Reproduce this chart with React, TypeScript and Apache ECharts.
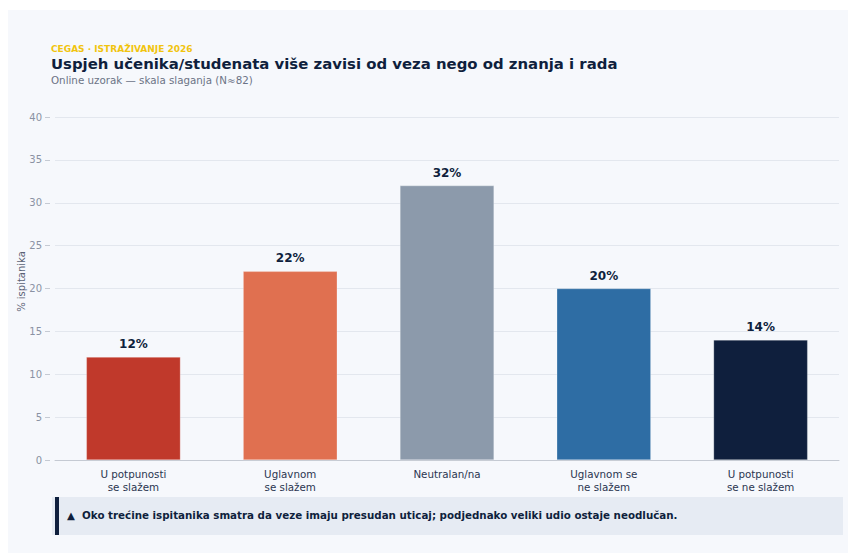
import React, { useEffect, useRef } from "react";
import * as echarts from "echarts";

const categories = [
  "U potpunosti\nse slažem",
  "Uglavnom\nse slažem",
  "Neutralan/na",
  "Uglavnom se\nne slažem",
  "U potpunosti\nse ne slažem",
];
const values = [12, 22, 32, 20, 14];
const barColors = ["#c0392b", "#e07050", "#8c9aab", "#2e6da4", "#0f1f3d"];
const yTicks = { min: 0, max: 40, interval: 5 };

const kicker = "CEGAS · ISTRAŽIVANJE 2026";
const title = "Uspjeh učenika/studenata više zavisi od veza nego od znanja i rada";
const subtitle = "Online uzorak — skala slaganja (N≈82)";
const yName = "% ispitanika";
const note = "▲  Oko trećine ispitanika smatra da veze imaju presudan uticaj; podjednako veliki udio ostaje neodlučan.";

const FONT = "DejaVu Sans";

export default function App() {
  const ref = useRef<HTMLDivElement>(null);
  useEffect(() => {
    if (!ref.current) return;
    const chart = echarts.init(ref.current, undefined, { renderer: "svg" });
    chart.setOption({
      animation: false,
      textStyle: { fontFamily: FONT },
      graphic: [
        {
          type: "rect",
          z: -10,
          shape: { x: 8, y: 10, width: 840, height: 543 },
          style: { fill: "#f6f8fc" },
          silent: true,
        },
        {
          type: "text",
          left: 51,
          top: 44,
          style: { text: kicker, fill: "#f1c40f", font: `bold 9px "${FONT}"` },
        },
        {
          type: "text",
          left: 51,
          top: 56,
          style: { text: title, fill: "#0f1f3d", font: `bold 14.9px "${FONT}"` },
        },
        {
          type: "text",
          left: 51,
          top: 75,
          style: { text: subtitle, fill: "#6b7385", font: `10.3px "${FONT}"` },
        },
        {
          type: "rect",
          shape: { x: 52, y: 497, width: 791, height: 38 },
          style: { fill: "#e6ebf3" },
        },
        {
          type: "rect",
          shape: { x: 55, y: 497, width: 4, height: 38 },
          style: { fill: "#0f1f3d" },
        },
        {
          type: "text",
          left: 67,
          top: 510,
          style: { text: note, fill: "#0f1f3d", font: `bold 10.3px "${FONT}"` },
        },
      ],
      grid: { left: 55, right: 9, top: 117, bottom: 93 },
      xAxis: {
        type: "category",
        data: categories,
        axisLine: { lineStyle: { color: "#c5cad3" } },
        axisTick: { alignWithLabel: true, length: 5, lineStyle: { color: "#6b7385" } },
        axisLabel: { color: "#2a3550", fontSize: 10.3, lineHeight: 13, margin: 7, fontFamily: FONT },
      },
      yAxis: {
        type: "value",
        min: yTicks.min,
        max: yTicks.max,
        interval: yTicks.interval,
        offset: 5,
        name: yName,
        nameLocation: "middle",
        nameGap: 24,
        nameMoveOverlap: false,
        nameTextStyle: { color: "#5a6275", fontSize: 10, fontFamily: FONT, padding: [0, 0, 0, 14] },
        axisLine: { show: true, lineStyle: { opacity: 0 } },
        axisTick: { show: true, length: 5, lineStyle: { color: "#c5cad3" } },
        axisLabel: { color: "#8a92a3", fontSize: 10, margin: 8, fontFamily: FONT },
        splitLine: { lineStyle: { color: "#e3e7ee", width: 1 } },
      },
      series: [
        {
          type: "bar",
          barWidth: "60%",
          data: values.map((v, i) => ({
            value: v,
            itemStyle: { color: barColors[i], borderColor: "rgba(255,255,255,0.5)", borderWidth: 0.5 },
          })),
          label: {
            show: true,
            position: "top",
            distance: 7,
            formatter: (p: any) => `${p.value}%`,
            color: "#0f1f3d",
            fontWeight: "bold",
            fontSize: 12,
            fontFamily: FONT,
          },
        },
      ],
    });
    return () => chart.dispose();
  }, []);
  return (
    <div
      ref={ref}
      style={{ position: "absolute", left: 0, top: 0, width: 848, height: 553 }}
    />
  );
}
